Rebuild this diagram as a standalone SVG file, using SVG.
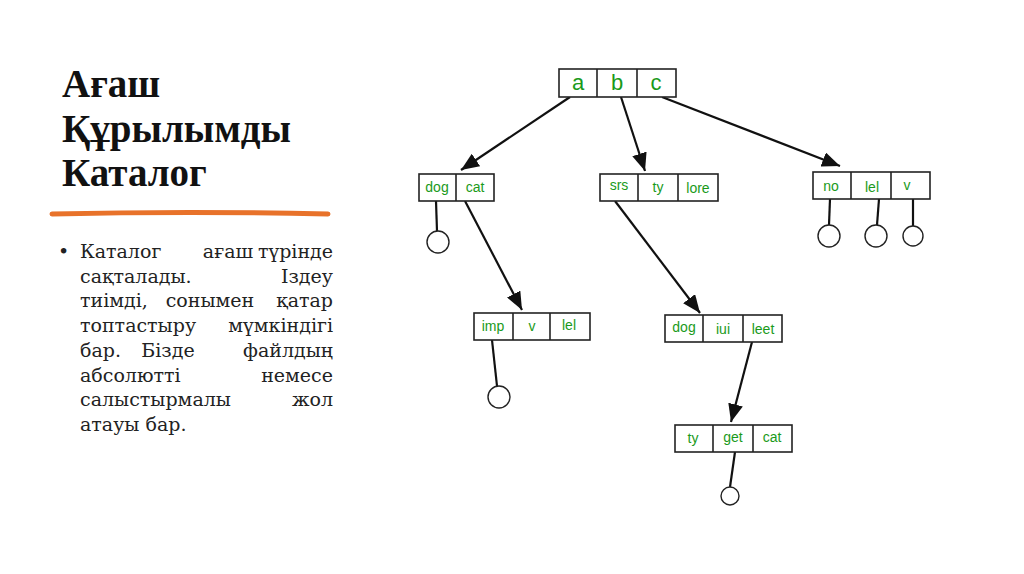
<svg xmlns="http://www.w3.org/2000/svg" width="1024" height="574" viewBox="0 0 1024 574">
<style>
.t{font-family:"Liberation Serif",serif;font-weight:bold;font-size:39px;fill:#111}
.b{font-family:"DejaVu Serif","Liberation Serif",serif;font-size:19px;fill:#222}
.e{text-anchor:end}
.m{text-anchor:middle}
.box{fill:#fff;stroke:#222;stroke-width:1.6}
.lb{font-family:"Liberation Sans",Arial,sans-serif;font-size:14px;fill:#1a9a1a;text-anchor:middle}
.big{font-size:22px}
.ln{stroke:#111;stroke-width:2.2;fill:none}
.c{fill:#fff;stroke:#222;stroke-width:1.4}
</style>
<defs><marker id="a" viewBox="0 0 12 10" refX="12" refY="5" markerWidth="18" markerHeight="15" orient="auto" markerUnits="userSpaceOnUse"><path d="M0,0L12,5L0,10z" fill="#111"/></marker></defs>
<rect width="1024" height="574" fill="#fff"/>
<g id="title"><text class="t" x="62" y="97">Ағаш</text><text class="t" x="62" y="142">Құрылымды</text><text class="t" x="62" y="186">Каталог</text></g>
<path d="M52,214 Q190,211 328,214" stroke="#e8722a" stroke-width="5" fill="none" stroke-linecap="round"/>
<g id="body" class="b">
<text x="58" y="258">•</text>
<text x="80" y="258">Каталог</text><text class="m" x="228" y="258">ағаш</text><text class="e" x="333" y="258">түрінде</text>
<text x="80" y="283">сақталады.</text><text class="e" x="333" y="283">Іздеу</text>
<text x="80" y="307">тиімді,</text><text class="m" x="210" y="307">сонымен</text><text class="e" x="333" y="307">қатар</text>
<text x="80" y="332">топтастыру</text><text class="e" x="333" y="332">мүмкіндігі</text>
<text x="80" y="357">бар.</text><text class="m" x="168" y="357">Бізде</text><text class="e" x="333" y="357">файлдың</text>
<text x="80" y="382">абсолютті</text><text class="e" x="333" y="382">немесе</text>
<text x="80" y="406">салыстырмалы</text><text class="e" x="333" y="406">жол</text>
<text x="80" y="431">атауы бар.</text>
</g>
<g id="connectors">
<line class="ln" x1="570" y1="97" x2="461" y2="170" marker-end="url(#a)"/>
<line class="ln" x1="621" y1="97" x2="645" y2="171" marker-end="url(#a)"/>
<line class="ln" x1="662" y1="97" x2="840" y2="166" marker-end="url(#a)"/>
<line class="ln" x1="465" y1="201" x2="522" y2="310" marker-end="url(#a)"/>
<line class="ln" x1="615" y1="201" x2="700" y2="313" marker-end="url(#a)"/>
<line class="ln" x1="752" y1="342" x2="731" y2="422" marker-end="url(#a)"/>
<line class="ln" x1="436" y1="201" x2="437" y2="231"/>
<line class="ln" x1="492" y1="340" x2="497" y2="386"/>
<line class="ln" x1="735" y1="452" x2="730" y2="487"/>
<line class="ln" x1="830" y1="199" x2="829" y2="225"/>
<line class="ln" x1="879" y1="199" x2="877" y2="225"/>
<line class="ln" x1="913" y1="199" x2="913" y2="226"/>
</g>
<g id="root"><rect class="box" x="559" y="69" width="117" height="28"/><line class="box" x1="597" y1="69" x2="597" y2="97"/><line class="box" x1="637" y1="69" x2="637" y2="97"/>
<text class="lb big" x="578" y="90">a</text><text class="lb big" x="617" y="90">b</text><text class="lb big" x="656" y="90">c</text></g>
<g id="n1"><rect class="box" x="419" y="174" width="75" height="27"/><line class="box" x1="456" y1="174" x2="456" y2="201"/><text class="lb" x="437" y="192">dog</text><text class="lb" x="475" y="192">cat</text></g>
<g id="n2"><rect class="box" x="600" y="174" width="118" height="27"/><line class="box" x1="638" y1="174" x2="638" y2="201"/><line class="box" x1="678" y1="174" x2="678" y2="201"/><text class="lb" x="619" y="190">srs</text><text class="lb" x="658" y="192">ty</text><text class="lb" x="698" y="193">lore</text></g>
<g id="n3"><rect class="box" x="813" y="172" width="117" height="27"/><line class="box" x1="851" y1="172" x2="851" y2="199"/><line class="box" x1="891" y1="172" x2="891" y2="199"/><text class="lb" x="831" y="191">no</text><text class="lb" x="872" y="192">lel</text><text class="lb" x="907" y="190">v</text></g>
<g id="n4"><rect class="box" x="474" y="313" width="116" height="27"/><line class="box" x1="513" y1="313" x2="513" y2="340"/><line class="box" x1="550" y1="313" x2="550" y2="340"/><text class="lb" x="493" y="331">imp</text><text class="lb" x="532" y="331">v</text><text class="lb" x="569" y="330">lel</text></g>
<g id="n5"><rect class="box" x="665" y="315" width="117" height="27"/><line class="box" x1="703" y1="315" x2="703" y2="342"/><line class="box" x1="743" y1="315" x2="743" y2="342"/><text class="lb" x="684" y="332">dog</text><text class="lb" x="723" y="334">iui</text><text class="lb" x="763" y="334">leet</text></g>
<g id="n6"><rect class="box" x="675" y="425" width="117" height="27"/><line class="box" x1="713" y1="425" x2="713" y2="452"/><line class="box" x1="753" y1="425" x2="753" y2="452"/><text class="lb" x="693" y="443">ty</text><text class="lb" x="733" y="442">get</text><text class="lb" x="772" y="442">cat</text></g>
<g id="leaves"><circle class="c" cx="438" cy="242" r="11"/><circle class="c" cx="499" cy="397" r="11"/><circle class="c" cx="829" cy="236" r="11"/><circle class="c" cx="876" cy="236" r="11"/><circle class="c" cx="913" cy="236" r="10"/><circle class="c" cx="730" cy="496" r="9"/></g>
</svg>
